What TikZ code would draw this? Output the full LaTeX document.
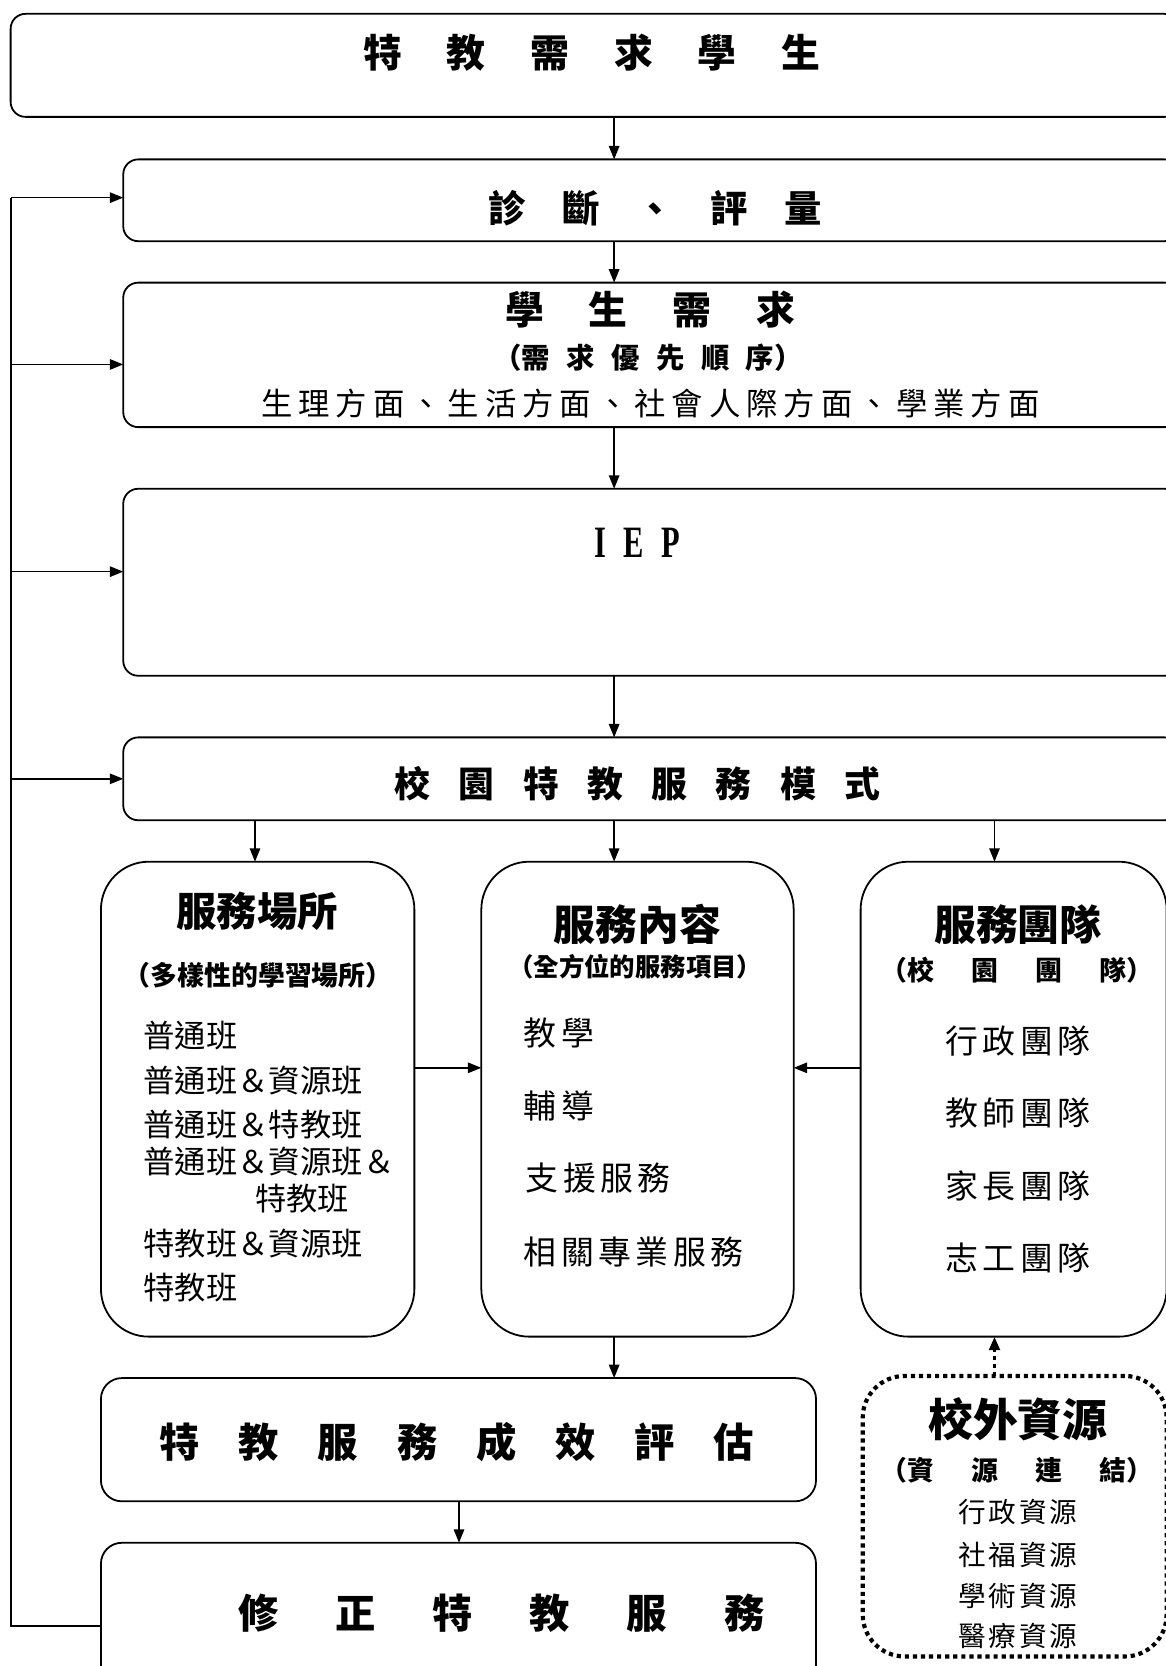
\documentclass[tikz,border=0pt]{standalone}
\usepackage{fontspec}
\setmainfont{Noto Sans CJK TC}
\newfontfamily\iepfont{Liberation Serif}
\usetikzlibrary{arrows.meta}
\makeatletter
\newcommand\spread[2]{\begingroup\def\sp@g{\hspace{#1}}\let\sp@s\relax\@tfor\sp@c:=#2\do{\sp@s\sp@c\let\sp@s\sp@g}\endgroup}
\makeatother
\newcommand\fs[1]{\fontsize{#1}{#1}\selectfont}
\newcommand\bx[6][]{\node[box,#1,minimum width={(#4-#2)*0.025cm},minimum height={(#5-#3)*0.025cm},anchor=north west] (#6) at (#2,#3) {};}
\tikzset{
  box/.style={draw, line width=1.2pt, rounded corners=10pt, inner sep=0pt, outer sep=0pt},
  bigbox/.style={rounded corners=32pt},
  midbox/.style={rounded corners=14pt},
  dotbox/.style={line width=2.8pt, dash pattern=on 2.8pt off 2.6pt, rounded corners=28pt},
  arr/.style={line width=1.1pt, -{Triangle[length=9pt,width=7pt]}},
  dotarr/.style={line width=2.6pt, dash pattern=on 2.8pt off 2.6pt, -{Triangle[length=9pt,width=7pt]}},
  ln/.style={line width=1.3pt},
  t/.style={inner sep=0pt, outer sep=0pt},
}
\begin{document}
\begin{tikzpicture}[x=0.025cm,y=-0.025cm]
\useasboundingbox (0,0) rectangle (1097,1568);
% boxes
\bx{10}{13}{1110}{110}{b1}
\bx{116}{150}{1110}{227}{b2}
\bx{116}{266}{1110}{402}{b3}
\bx{116}{460}{1110}{636}{b4}
\bx{116}{694}{1110}{772}{b5}
\bx[bigbox]{95}{811}{390}{1258}{b6}
\bx[bigbox]{453}{811}{747}{1258}{b7}
\bx[bigbox]{810}{811}{1098}{1258}{b8}
\bx[midbox]{95}{1297}{768}{1413}{b9}
\bx[midbox]{95}{1452}{768}{1610}{b10}
\bx[dotbox]{812}{1295}{1098}{1559}{b11}
% texts
\node[t] (t1) at (557,50) {\fs{26}\bfseries\spread{30pt}{特教需求學生}};
\node[t] (t2) at (617,196) {\fs{25}\bfseries\spread{24.5pt}{診斷、評量}};
\node[t] (t3a) at (612,291) {\fs{26}\bfseries\spread{30pt}{學生需求}};
\node[t] (t3b) at (610,337) {\fs{19}\bfseries （\spread{11pt}{需求優先順序}）};
\node[t] (t3c) at (612,380) {\fs{21}\spread{4pt}{生理方面、生活方面、社會人際方面、學業方面}};
\node[t] (t4) at (600,511) {\scalebox{0.68}[1]{\fs{30}\iepfont\bfseries I\hspace{17pt}E\hspace{17pt}P}};
\node[t] (t5) at (600,738) {\fs{24}\bfseries\spread{19pt}{校園特教服務模式}};
% column 1
\node[t] (c1h) at (242,858) {\fs{27}\bfseries 服務場所};
\node[t] (c1s) at (243,918) {\fs{18}\bfseries （多樣性的學習場所）};
\node[t,anchor=west] (c1a) at (135,975) {\fs{21}普通班};
\node[t,anchor=west] (c1b) at (135,1017) {\fs{21}普通班＆資源班};
\node[t,anchor=west] (c1c) at (135,1058) {\fs{21}普通班＆特教班};
\node[t,anchor=west] (c1d) at (135,1093) {\fs{21}普通班＆資源班＆};
\node[t,anchor=west] (c1e) at (240,1128) {\fs{21}特教班};
\node[t,anchor=west] (c1f) at (135,1170) {\fs{21}特教班＆資源班};
\node[t,anchor=west] (c1g) at (135,1212) {\fs{21}特教班};
% column 2
\node[t] (c2h) at (600,870) {\fs{28}\bfseries 服務內容};
\node[t] (c2s) at (598,910) {\fs{17}\bfseries （全方位的服務項目）};
\node[t,anchor=west] (c2a) at (493,972) {\fs{22}\spread{3pt}{教學}};
\node[t,anchor=west] (c2b) at (493,1041) {\fs{22}\spread{3pt}{輔導}};
\node[t,anchor=west] (c2c) at (495,1109) {\fs{22}\spread{3pt}{支援服務}};
\node[t,anchor=west] (c2d) at (493,1178) {\fs{22}\spread{3pt}{相關專業服務}};
% column 3
\node[t] (c3h) at (958,870) {\fs{28}\bfseries 服務團隊};
\node[t] (c3s) at (957,913) {\fs{18}\bfseries （\spread{25pt}{校園團隊}）};
\node[t] (c3a) at (958,980) {\fs{22}\spread{3pt}{行政團隊}};
\node[t] (c3b) at (958,1048) {\fs{22}\spread{3pt}{教師團隊}};
\node[t] (c3c) at (958,1116) {\fs{22}\spread{3pt}{家長團隊}};
\node[t] (c3d) at (958,1184) {\fs{22}\spread{3pt}{志工團隊}};
% bottom
\node[t] (t9) at (430,1357) {\fs{27}\bfseries\spread{26pt}{特教服務成效評估}};
\node[t] (t10) at (472,1518) {\fs{27}\bfseries\spread{38pt}{修正特教服務}};
\node[t] (r0) at (958,1336) {\fs{30}\bfseries 校外資源};
\node[t] (r1) at (957,1384) {\fs{18}\bfseries （\spread{25pt}{資源連結}）};
\node[t] (r2) at (958,1423) {\fs{18.5}\spread{2pt}{行政資源}};
\node[t] (r3) at (958,1463) {\fs{18.5}\spread{2pt}{社福資源}};
\node[t] (r4) at (958,1502) {\fs{18.5}\spread{2pt}{學術資源}};
\node[t] (r5) at (958,1540) {\fs{18.5}\spread{2pt}{醫療資源}};
% connectors
\coordinate (xm) at (578,0);
\coordinate (xa) at (240,0);
\coordinate (xc) at (936,0);
\coordinate (xb) at (432,0);
\coordinate (xl) at (10,0);
\coordinate (ym) at (0,1005);
\coordinate (yf) at (0,1530);
\coordinate (y2) at (0,186);
\coordinate (y3) at (0,343);
\coordinate (y4) at (0,538);
\coordinate (y5) at (0,733);
\draw[arr] (xm |- b1.south) -- (xm |- b2.north);
\draw[arr] (xm |- b2.south) -- (xm |- b3.north);
\draw[arr] (xm |- b3.south) -- (xm |- b4.north);
\draw[arr] (xm |- b4.south) -- (xm |- b5.north);
\draw[arr] (xa |- b5.south) -- (xa |- b6.north);
\draw[arr] (xm |- b5.south) -- (xm |- b7.north);
\draw[arr] (xc |- b5.south) -- (xc |- b8.north);
\draw[arr] (b6.east |- ym) -- (b7.west |- ym);
\draw[arr] (b8.west |- ym) -- (b7.east |- ym);
\draw[arr] (xm |- b7.south) -- (xm |- b9.north);
\draw[arr] (xb |- b9.south) -- (xb |- b10.north);
\draw[dotarr] (xc |- b11.north) -- (xc |- b8.south);
\draw[ln] (b10.west |- yf) -- (xl |- yf) -- (xl |- y2);
\draw[arr] (xl |- y2) -- (b2.west |- y2);
\draw[arr] (xl |- y3) -- (b3.west |- y3);
\draw[arr] (xl |- y4) -- (b4.west |- y4);
\draw[arr] (xl |- y5) -- (b5.west |- y5);
\end{tikzpicture}
\end{document}
